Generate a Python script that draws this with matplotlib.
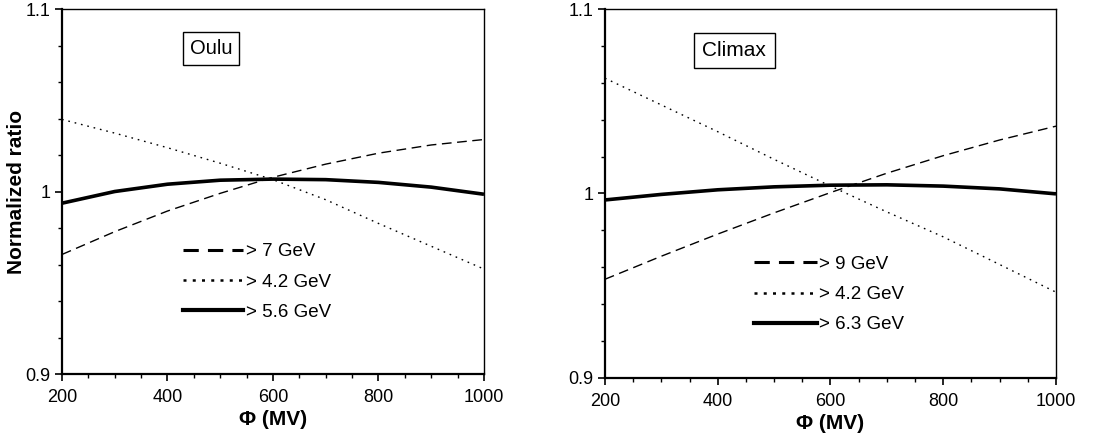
import matplotlib
matplotlib.use("Agg")
import matplotlib.pyplot as plt
from matplotlib.lines import Line2D

plt.rcParams['font.family'] = ['Liberation Sans', 'DejaVu Sans']

phi = [200, 300, 400, 500, 600, 700, 800, 900, 1000]

oulu_7 = [0.9655, 0.9780, 0.9893, 0.9990, 1.0078, 1.0150, 1.0210, 1.0255, 1.0285]
oulu_42 = [1.0395, 1.0320, 1.0240, 1.0155, 1.0065, 0.9955, 0.9825, 0.9700, 0.9575]
oulu_56 = [0.9936, 1.0000, 1.0040, 1.0062, 1.0068, 1.0065, 1.0050, 1.0024, 0.9985]

climax_9 = [0.9535, 0.9660, 0.9780, 0.9895, 1.0005, 1.0110, 1.0205, 1.0290, 1.0365]
climax_42 = [1.0625, 1.0480, 1.0335, 1.0185, 1.0040, 0.9900, 0.9765, 0.9615, 0.9465]
climax_63 = [0.9965, 0.9995, 1.0020, 1.0036, 1.0045, 1.0047, 1.0040, 1.0025, 0.9998]

panels = [
    ("Oulu", [oulu_7, oulu_42, oulu_56], ["> 7 GeV", "> 4.2 GeV", "> 5.6 GeV"]),
    ("Climax", [climax_9, climax_42, climax_63], ["> 9 GeV", "> 4.2 GeV", "> 6.3 GeV"]),
]

fig = plt.figure(figsize=(11.09, 4.40), dpi=100)
axes_rects = [[0.0559, 0.150, 0.3805, 0.8295], [0.5455, 0.141, 0.4067, 0.8385]]
station_pos = [(0.303, 0.893), (0.216, 0.8875)]
station_size = [14.5, 15]
station_pad = [0.35, 0.4]
legend_anchor = [(0.287, 0.358), (0.330, 0.331)]
legend_hlen = [3.2, 3.35]

dash_style = (0, (7, 4))
dot_style = (0, (1.2, 3.5))

for i, (name, series, labels) in enumerate(panels):
    ax = fig.add_axes(axes_rects[i])
    ax.plot(phi, series[0], color='black', lw=1.0, linestyle=dash_style)
    ax.plot(phi, series[1], color='black', lw=1.0, linestyle=dot_style)
    ax.plot(phi, series[2], color='black', lw=2.6, solid_capstyle='butt')
    ax.set_xlim(200, 1000)
    ax.set_ylim(0.9, 1.1)
    ax.set_xticks([200, 400, 600, 800, 1000])
    ax.set_xticks(range(200, 1001, 50), minor=True)
    ax.set_yticks([0.9, 1.0, 1.1])
    ax.set_yticklabels(['0.9', '1', '1.1'])
    ax.set_yticks([0.9 + 0.02 * k for k in range(11)], minor=True)
    ax.tick_params(which='major', direction='out', length=5, width=1.2, labelsize=13, colors='black')
    ax.tick_params(axis='x', which='major', pad=6)
    ax.tick_params(which='minor', direction='out', length=3, width=1.0)
    for s in ['left', 'bottom']:
        ax.spines[s].set_linewidth(1.6)
    for s in ['top', 'right']:
        ax.spines[s].set_linewidth(1.0)
    ax.set_xlabel('Φ (MV)', fontsize=15, fontweight='bold', labelpad=3)
    if i == 0:
        ax.set_ylabel('Normalized ratio', fontsize=15, fontweight='bold')
        ax.yaxis.set_label_coords(-0.086, 0.5)
    ax.text(station_pos[i][0], station_pos[i][1], name, transform=ax.transAxes,
            fontsize=station_size[i], va='center', ha='left',
            bbox=dict(boxstyle='square,pad=%g' % station_pad[i], fc='white', ec='black', lw=1.0))
    handles = [
        Line2D([], [], color='black', lw=2.2, linestyle=(0, (5, 3))),
        Line2D([], [], color='black', lw=1.8, linestyle=(0, (1.2, 2.5))),
        Line2D([], [], color='black', lw=3.0),
    ]
    ax.legend(handles, labels, loc='upper left', bbox_to_anchor=legend_anchor[i],
              frameon=False, fontsize=13.5, handlelength=legend_hlen[i], handletextpad=0.15,
              labelspacing=0.7, borderaxespad=0, borderpad=0)

fig.savefig('out.png', dpi=100)
